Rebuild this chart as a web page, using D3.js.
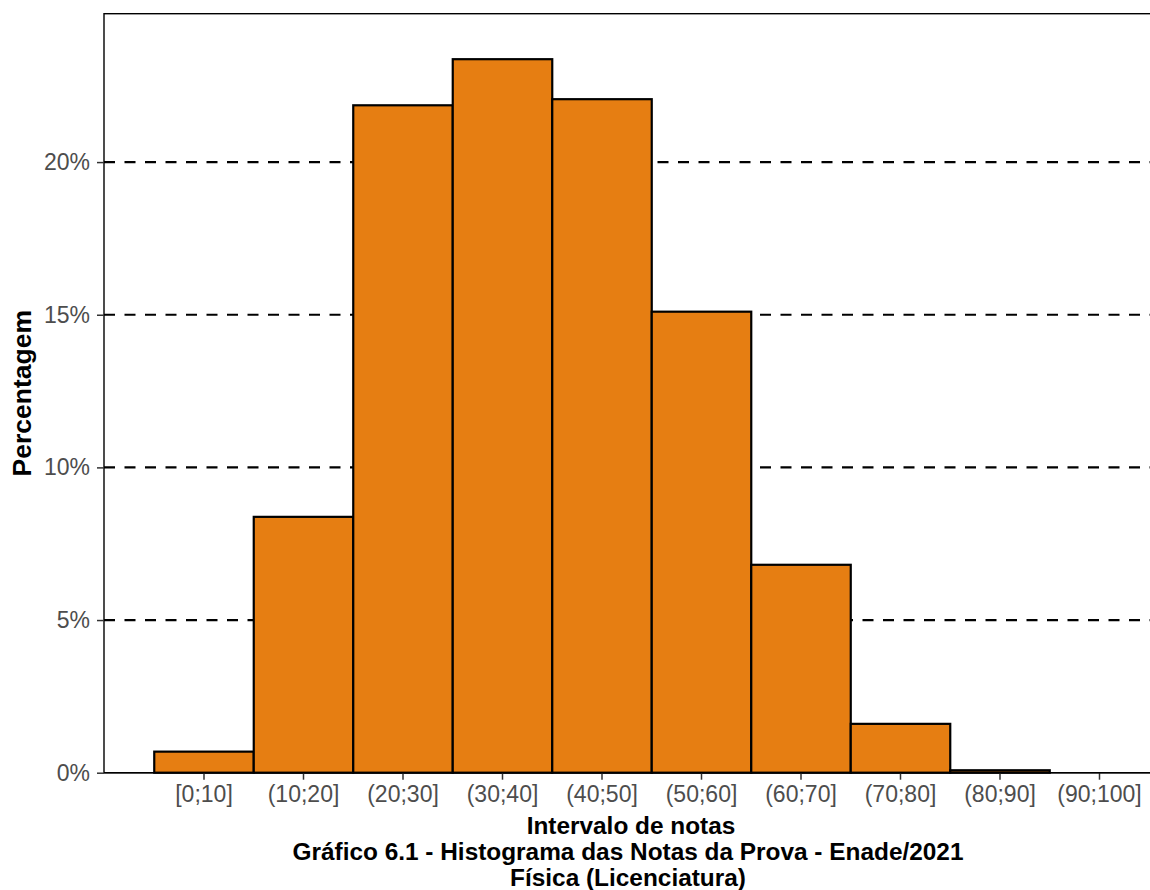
<!DOCTYPE html>
<html>
<head>
<meta charset="utf-8">
<script src="https://cdn.jsdelivr.net/npm/d3@7"></script>
<style>
  html, body { margin: 0; padding: 0; background: #fff; }
  svg { display: block; font-family: "Liberation Sans", Arial, sans-serif; }
</style>
</head>
<body>
<svg id="chart" width="1150" height="890"></svg>
<script>
const categories = ["[0;10]", "(10;20]", "(20;30]", "(30;40]", "(40;50]", "(50;60]", "(60;70]", "(70;80]", "(80;90]", "(90;100]"];
const percentages = [0.69, 8.38, 21.86, 23.37, 22.06, 15.10, 6.81, 1.60, 0.08, 0];
const yTicks = [0, 5, 10, 15, 20];
const xTitle = "Intervalo de notas";
const yTitle = "Percentagem";
const captionLines = ["Gráfico 6.1 - Histograma das Notas da Prova - Enade/2021", "Física (Licenciatura)"];

const svg = d3.select("#chart");
const panel = { left: 104, right: 1199, top: 13.7, bottom: 772.7 };

const x = d3.scaleBand().domain(categories).range([panel.left + 0.5, panel.right]).paddingInner(0).paddingOuter(0.5);
const y = d3.scaleLinear().domain([0, 24.86]).range([panel.bottom, panel.top]);

// gridlines
svg.append("g").selectAll("line").data(yTicks.filter(d => d > 0)).join("line")
  .attr("x1", panel.left).attr("x2", panel.right)
  .attr("y1", d => y(d)).attr("y2", d => y(d))
  .attr("stroke", "#000").attr("stroke-width", 2.2)
  .attr("stroke-dasharray", "11,9.5");

// bars
svg.append("g").selectAll("rect").data(percentages).join("rect")
  .attr("x", (d, i) => x(categories[i]))
  .attr("width", x.bandwidth())
  .attr("y", d => y(d))
  .attr("height", d => y(0) - y(d))
  .attr("fill", "#E67E12")
  .attr("stroke", "#000")
  .attr("stroke-width", 2.2);

// panel border
svg.append("rect")
  .attr("x", panel.left).attr("y", panel.top)
  .attr("width", panel.right - panel.left).attr("height", panel.bottom - panel.top)
  .attr("fill", "none").attr("stroke", "#000").attr("stroke-width", 1.4);

// y axis
const yAxis = svg.append("g").attr("transform", `translate(${panel.left},0)`)
  .call(d3.axisLeft(y).tickValues(yTicks).tickFormat(d => d + "%").tickSize(7).tickPadding(7));
yAxis.select(".domain").remove();
yAxis.selectAll(".tick line").attr("stroke", "#333").attr("stroke-width", 1.5);
yAxis.selectAll(".tick text").attr("fill", "#4D4D4D").style("font-size", "23px")
  .style("font-family", "'Liberation Sans', Arial, sans-serif");

// x axis
const xAxis = svg.append("g").attr("transform", `translate(0,${panel.bottom})`)
  .call(d3.axisBottom(x).tickSize(7).tickPadding(6));
xAxis.select(".domain").remove();
xAxis.selectAll(".tick line").attr("stroke", "#333").attr("stroke-width", 1.5);
xAxis.selectAll(".tick text").attr("fill", "#4D4D4D").style("font-size", "23px")
  .style("font-family", "'Liberation Sans', Arial, sans-serif");

// bottom axis line
svg.append("line").attr("x1", panel.left).attr("x2", panel.right)
  .attr("y1", panel.bottom).attr("y2", panel.bottom)
  .attr("stroke", "#000").attr("stroke-width", 1.6);

// titles
const cx = 628;
svg.append("text").attr("x", 631).attr("y", 834).attr("text-anchor", "middle")
  .attr("font-weight", "bold").attr("font-size", 24.4).attr("fill", "#000").text(xTitle);
captionLines.forEach((t, i) => {
  svg.append("text").attr("x", cx).attr("y", 860 + i * 26).attr("text-anchor", "middle")
    .attr("font-weight", "bold").attr("font-size", 24.4).attr("fill", "#000").text(t);
});
svg.append("text")
  .attr("transform", `translate(30.5,${(panel.top + panel.bottom) / 2}) rotate(-90)`)
  .attr("text-anchor", "middle").attr("font-weight", "bold").attr("font-size", 26.5)
  .attr("fill", "#000").text(yTitle);
</script>
</body>
</html>
